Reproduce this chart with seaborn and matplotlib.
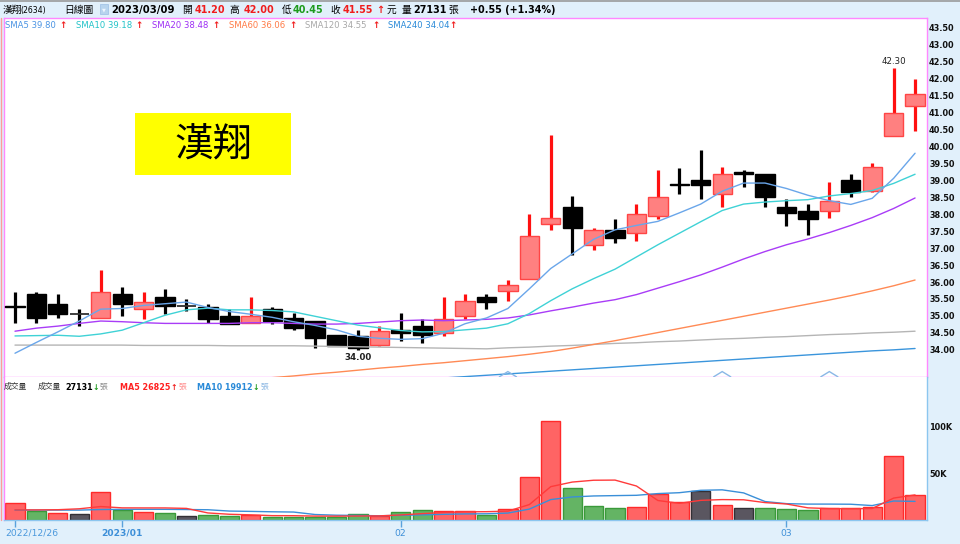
import numpy as np
import pandas as pd
import matplotlib
matplotlib.use("Agg")
import matplotlib.pyplot as plt
import seaborn as sns
from matplotlib.patches import Rectangle
from matplotlib.lines import Line2D

# ---------------- data ----------------
dates = ["2022/12/26", "2022/12/27", "2022/12/28", "2022/12/29", "2022/12/30",
         "2023/01/03", "2023/01/04", "2023/01/05", "2023/01/06", "2023/01/09",
         "2023/01/10", "2023/01/11", "2023/01/12", "2023/01/13", "2023/01/16",
         "2023/01/17", "2023/01/30", "2023/01/31",
         "2023/02/01", "2023/02/02", "2023/02/03", "2023/02/06", "2023/02/07",
         "2023/02/08", "2023/02/09", "2023/02/10", "2023/02/13", "2023/02/14",
         "2023/02/15", "2023/02/16", "2023/02/17", "2023/02/20", "2023/02/21",
         "2023/02/22", "2023/02/23", "2023/02/24",
         "2023/03/01", "2023/03/02", "2023/03/03", "2023/03/06", "2023/03/07",
         "2023/03/08", "2023/03/09"]

opens = [35.30, 35.65, 35.35, 35.05, 34.95, 35.65, 35.20, 35.55, 35.30, 35.25,
         35.00, 34.80, 35.20, 34.95, 34.85, 34.45, 34.40, 34.15, 34.60, 34.70,
         34.50, 35.00, 35.55, 35.75, 36.10, 37.70, 38.20, 37.10, 37.55, 37.45,
         37.95, 38.90, 39.00, 38.60, 39.25, 39.20, 38.20, 38.10, 38.10, 39.00,
         38.70, 40.30, 41.20]
highs = [35.70, 35.70, 35.65, 35.20, 36.35, 35.85, 35.70, 35.80, 35.50, 35.35,
         35.20, 35.55, 35.25, 35.10, 34.85, 34.45, 34.60, 34.70, 35.10, 34.90,
         35.55, 35.65, 35.65, 36.05, 38.00, 40.35, 38.55, 37.60, 37.85, 38.30,
         39.30, 39.35, 39.90, 39.40, 39.30, 39.20, 38.45, 38.30, 38.95, 39.20,
         39.50, 42.30, 42.00]
lows = [34.80, 34.80, 34.95, 34.70, 34.95, 35.00, 34.90, 35.05, 35.15, 34.80,
        34.75, 34.80, 34.75, 34.60, 34.05, 34.10, 34.00, 34.10, 34.25, 34.20,
        34.40, 34.90, 35.20, 35.45, 36.10, 37.55, 36.80, 36.95, 37.15, 37.20,
        37.85, 38.60, 38.45, 38.20, 38.80, 38.20, 37.65, 37.40, 37.90, 38.50,
        38.65, 40.30, 40.45]
closes = [35.25, 34.95, 35.05, 35.05, 35.70, 35.35, 35.40, 35.30, 35.30, 34.90,
          34.75, 35.00, 34.85, 34.65, 34.35, 34.10, 34.05, 34.55, 34.50, 34.45,
          34.90, 35.45, 35.40, 35.90, 37.35, 37.90, 37.60, 37.55, 37.30, 38.00,
          38.50, 38.85, 38.85, 39.20, 39.20, 38.50, 38.05, 37.85, 38.40, 38.65,
          39.40, 41.00, 41.55]

volumes = [18200, 9300, 7900, 6500, 30100, 11100, 9000, 7900, 4000, 5800,
           4000, 5800, 3700, 3700, 3700, 3700, 6500, 4400, 8700, 10800,
           9700, 10000, 5300, 11600, 45800, 105700, 34500, 15100, 12400, 14100,
           28200, 19400, 31000, 16500, 13000, 13200, 12000, 10300, 12500, 12500,
           14000, 68000, 27131]
vol_kind = ["up", "down", "up", "flat", "up", "down", "up", "down", "flat", "down",
            "down", "up", "down", "down", "down", "down", "down", "up", "down", "down",
            "up", "up", "down", "up", "up", "up", "down", "down", "down", "up",
            "up", "up", "flat", "up", "flat", "down", "down", "down", "up", "up",
            "up", "up", "up"]

NA = np.nan
sma5 = [33.90, 34.22, 34.53, 34.85, 35.20, 35.22, 35.31, 35.36, 35.41, 35.25,
        35.13, 35.05, 34.96, 34.83, 34.72, 34.59, 34.40, 34.34, 34.31, 34.33,
        34.49, 34.77, 34.94, 35.22, 35.80, 36.40, 36.83, 37.26, 37.54, 37.67,
        37.79, 38.04, 38.30, 38.68, 38.92, 38.92, 38.76, 38.56, 38.40, 38.29,
        38.47, 39.06, 39.80]
sma10 = [34.41, 34.42, 34.43, 34.40, 34.47, 34.58, 34.80, 35.02, 35.18, 35.23,
         35.18, 35.18, 35.16, 35.12, 34.99, 34.86, 34.73, 34.65, 34.57, 34.53,
         34.54, 34.59, 34.64, 34.77, 35.07, 35.45, 35.80, 36.10, 36.38, 36.74,
         37.10, 37.44, 37.78, 38.11, 38.30, 38.36, 38.40, 38.43, 38.54, 38.61,
         38.70, 38.91, 39.18]
sma20 = [34.55, 34.64, 34.70, 34.78, 34.85, 34.83, 34.80, 34.78, 34.78, 34.78,
         34.78, 34.80, 34.80, 34.78, 34.76, 34.76, 34.78, 34.82, 34.86, 34.88,
         34.86, 34.88, 34.90, 34.94, 35.03, 35.15, 35.26, 35.38, 35.48, 35.63,
         35.82, 36.01, 36.21, 36.44, 36.68, 36.90, 37.10, 37.27, 37.46, 37.67,
         37.90, 38.17, 38.48]
sma60 = [NA, NA, NA, NA, NA, NA, NA, NA, NA, NA,
         NA, 33.12, 33.18, 33.23, 33.29, 33.34, 33.40, 33.46, 33.51, 33.57,
         33.62, 33.68, 33.74, 33.80, 33.87, 33.95, 34.05, 34.16, 34.27, 34.39,
         34.51, 34.63, 34.75, 34.87, 34.99, 35.11, 35.23, 35.35, 35.47, 35.60,
         35.74, 35.89, 36.06]
sma120 = [34.14, 34.14, 34.14, 34.14, 34.14, 34.14, 34.13, 34.13, 34.13, 34.13,
          34.12, 34.12, 34.12, 34.12, 34.11, 34.10, 34.09, 34.08, 34.07, 34.06,
          34.05, 34.04, 34.03, 34.06, 34.08, 34.11, 34.13, 34.16, 34.19, 34.21,
          34.24, 34.26, 34.29, 34.32, 34.34, 34.37, 34.39, 34.42, 34.45, 34.47,
          34.50, 34.52, 34.55]
sma240 = [NA, NA, NA, NA, NA, NA, NA, NA, NA, NA,
          NA, NA, NA, NA, NA, NA, NA, NA, NA, NA,
          33.17, 33.21, 33.25, 33.29, 33.33, 33.37, 33.41, 33.45, 33.49, 33.53,
          33.57, 33.61, 33.65, 33.69, 33.73, 33.77, 33.81, 33.85, 33.89, 33.93,
          33.97, 34.00, 34.04]

vol_ma5 = [10800, 10800, 11000, 12000, 14400, 12980, 12920, 12920, 12420, 7560,
           6140, 5500, 4660, 4600, 4180, 4120, 4260, 4400, 5400, 6820,
           8020, 8720, 8900, 9480, 16480, 35680, 40580, 42540, 42700, 36360,
           20860, 17840, 21020, 21840, 21620, 18620, 17140, 13000, 12200, 12100,
           12260, 23460, 26825]
vol_ma10 = [10600, 10600, 10600, 10600, 11200, 11400, 11400, 11400, 11200, 10980,
            9560, 9210, 8790, 8510, 5870, 5130, 4880, 4530, 5000, 5500,
            6070, 6490, 6650, 7440, 11650, 21850, 24650, 25720, 26090, 26420,
            28270, 29210, 31780, 32270, 28990, 19740, 17490, 17010, 17020, 16860,
            15440, 20300, 19912]

sma_names = ["SMA5", "SMA10", "SMA20", "SMA60", "SMA120", "SMA240"]
sma_last = ["39.80", "39.18", "38.48", "36.06", "34.55", "34.04"]
price_ticks = [34.00, 34.50, 35.00, 35.50, 36.00, 36.50, 37.00, 37.50, 38.00, 38.50,
               39.00, 39.50, 40.00, 40.50, 41.00, 41.50, 42.00, 42.50, 43.00, 43.50]
vol_ticks = [50000, 100000]
vol_tick_labels = ["50K", "100K"]
date_tick_dates = ["2022/12/26", "2023/01/03", "2023/02/01", "2023/03/01"]
date_tick_labels = ["2022/12/26", "2023/01", "02", "03"]
event_dates = ["2023/02/08", "2023/02/22", "2023/03/03"]

# ---------------- style ----------------
sns.set_style("white")
plt.rcParams["font.family"] = ["DejaVu Sans", "Noto Sans CJK TC"]
plt.rcParams["axes.unicode_minus"] = False
CJK = ["Noto Sans CJK TC", "DejaVu Sans"]
LAT = ["DejaVu Sans", "Noto Sans CJK TC"]

W, H = 960, 544
fig = plt.figure(figsize=(W / 100, H / 100), dpi=100)
BG = "#e1f0fb"
fig.patch.set_facecolor(BG)

def fx(px):
    return px / W

def fy(py):
    return 1 - py / H

def txt(x, y, s, color="black", size=6.5, weight="normal", family=None, ha="left", va="center", z=10):
    fig.text(fx(x), fy(y), s, color=color, fontsize=size, fontweight=weight,
             family=family or LAT, ha=ha, va=va, zorder=z)

XL, XR = 4, 927
YT, YM, YB = 18, 377, 520
ax = fig.add_axes([fx(XL), fy(YM), (XR - XL) / W, (YM - YT) / H])
axv = fig.add_axes([fx(XL), fy(YB), (XR - XL) / W, (YB - YM) / H])
for a in (ax, axv):
    a.set_facecolor("white")

idx = np.arange(len(dates))
o = np.array(opens); c = np.array(closes); h = np.array(highs); l = np.array(lows)

PINK = "#ff88ff"
LBLUE = "#8cc6ef"

# ---------------- price panel ----------------
XMIN, XMAX = -0.513, 42.557
YMIN, YMAX = 33.199, 43.789

sma_colors = ["#4b94e3", "#22c3c8", "#9d2df5", "#ff7a45", "#a8a8a8", "#2a8ad8"]
line_colors = ["#6aa6ea", "#3fd2d6", "#a93cf7", "#ff8a55", "#b5b5b5", "#3a95dc"]
for vals, col in zip([sma240, sma120, sma60, sma20, sma10, sma5], line_colors[::-1]):
    sns.lineplot(x=idx, y=np.array(vals, dtype=float), ax=ax, color=col,
                 linewidth=1.0, legend=False, errorbar=None, zorder=4)

up = c > o
dn = c < o
fl = c == o
ax.vlines(idx[up], l[up], h[up], color="#ff1010", lw=2.3, zorder=2)
ax.vlines(idx[~up], l[~up], h[~up], color="black", lw=2.3, zorder=2)
ax.bar(idx[up], (c - o)[up], bottom=o[up], width=0.9, color="#ff8080",
       edgecolor="#ff4545", linewidth=1.0, zorder=3)
ax.bar(idx[dn], (o - c)[dn], bottom=c[dn], width=0.9, color="black",
       edgecolor="black", linewidth=1.0, zorder=3)
ax.hlines(c[fl], idx[fl] - 0.45, idx[fl] + 0.45, color="#303030", lw=1.3, zorder=3)

# high / low annotations
hi_i = int(np.argmax(h)); lo_i = int(np.argmin(l))
ax.annotate(f"{h[hi_i]:.2f}", xy=(hi_i, h[hi_i]), xytext=(0, 1.5), textcoords="offset points",
            ha="center", va="bottom", fontsize=6.2, color="#202020", zorder=6)
ax.annotate(f"{l[lo_i]:.2f}", xy=(lo_i, l[lo_i]), xytext=(0, -2), textcoords="offset points",
            ha="center", va="top", fontsize=6.2, color="#202020", fontweight="bold", zorder=6)

# small event chevrons at the bottom
for d in event_dates:
    i = dates.index(d)
    ax.plot([i - 0.4, i, i + 0.4], [YMIN + 0.005, YMIN + 0.16, YMIN + 0.005],
            color="#8ab8e6", lw=1.0, zorder=5, solid_joinstyle="miter")

ax.set_xlim(XMIN, XMAX)
ax.set_ylim(YMIN, YMAX)
ax.set_xticks([])
ax.yaxis.tick_right()
ax.set_yticks(price_ticks)
ax.set_yticklabels([f"{v:.2f}" for v in price_ticks], fontsize=5.9, fontweight="bold", color="#111111")
ax.tick_params(axis="y", length=0, pad=1.5)
ax.set_xlabel(""); ax.set_ylabel("")
for s in ax.spines.values():
    s.set_color(PINK); s.set_linewidth(1.0); s.set_visible(True)

# ---------------- volume panel ----------------
VOL_FILL = {"up": "#ff6464", "down": "#64b464", "flat": "#5a5660"}
VOL_EDGE = {"up": "#ff2a2a", "down": "#3a9a3a", "flat": "#333036"}
vdf = pd.DataFrame({"i": idx, "vol": volumes, "kind": vol_kind})
sns.barplot(data=vdf, x="i", y="vol", hue="kind", palette=VOL_FILL, native_scale=True,
            dodge=False, width=0.9, errorbar=None, saturation=1, legend=False, ax=axv,
            zorder=2)
fill2edge = {tuple(np.round(matplotlib.colors.to_rgb(VOL_FILL[k]), 3)): VOL_EDGE[k] for k in VOL_FILL}
for p in axv.patches:
    key = tuple(np.round(p.get_facecolor()[:3], 3))
    p.set_edgecolor(fill2edge.get(key, "#333333"))
    p.set_linewidth(1.0)

sns.lineplot(x=idx, y=np.array(vol_ma10, dtype=float), ax=axv, color="#3a8fd8",
             linewidth=1.0, legend=False, errorbar=None, zorder=4)
sns.lineplot(x=idx, y=np.array(vol_ma5, dtype=float), ax=axv, color="#ff3a3a",
             linewidth=1.0, legend=False, errorbar=None, zorder=4)

axv.set_xlim(XMIN, XMAX)
axv.set_ylim(0, 153000)
axv.yaxis.tick_right()
axv.set_yticks(vol_ticks)
axv.set_yticklabels(vol_tick_labels, fontsize=5.9, fontweight="bold", color="#111111")
axv.tick_params(axis="y", length=0, pad=1.5)
tick_idx = [dates.index(d) for d in date_tick_dates]
axv.set_xticks(tick_idx)
axv.set_xticklabels([])
axv.tick_params(axis="x", direction="out", length=5, width=1, color="#5aa2dc", bottom=True)
axv.set_xlabel(""); axv.set_ylabel("")
axv.spines["top"].set_visible(False)
axv.spines["left"].set_color(PINK)
axv.spines["right"].set_color(LBLUE)
axv.spines["bottom"].set_color(LBLUE)
for s in ("left", "right", "bottom"):
    axv.spines[s].set_linewidth(1.0); axv.spines[s].set_visible(True)

# date labels
for k, (i, lab) in enumerate(zip(tick_idx, date_tick_labels)):
    xpix = 15 + 21.43 * i
    if k == 0:
        txt(5, 533, lab, color="#4a98dc", size=6.6, ha="left")
    else:
        txt(xpix, 533, lab, color="#3d8fd8", size=6.6, ha="center",
            weight="bold" if k == 1 else "normal")

# ---------------- frame decorations ----------------
fig.add_artist(Line2D([0, 1], [fy(0.5), fy(0.5)], color="#9a9a9a", lw=1.2))
fig.add_artist(Line2D([fx(1), fx(1)], [fy(YT), fy(YB)], color="#ff9a9a", lw=1.0))

# ---------------- header ----------------
HY = 10
RED = "#f01c1c"; GREEN = "#1d9a1d"
txt(3, HY, "漢翔", size=7, family=CJK)
txt(20.5, HY, "(2634)", size=5.6)
txt(64, HY, "日線圖", size=7, family=CJK)
fig.add_artist(Rectangle((fx(100), fy(14)), 8 / W, 10 / H, facecolor="#b7d4ee", edgecolor="#a3c4e6", lw=0.6))
txt(104, 9.5, "▼", color="#eef6ff", size=3.6, ha="center")
txt(111, HY, "2023/03/09", size=7.3, weight="bold")
txt(182, HY, "開", size=7, family=CJK)
txt(195, HY, "41.20", color=RED, size=6.9, weight="bold")
txt(229, HY, "高", size=7, family=CJK)
txt(244, HY, "42.00", color=RED, size=6.9, weight="bold")
txt(282, HY, "低", size=7, family=CJK)
txt(293, HY, "40.45", color=GREEN, size=6.9, weight="bold")
txt(330, HY, "收", size=7, family=CJK)
txt(343, HY, "41.55", color=RED, size=6.9, weight="bold")
txt(376, HY, "↑", color=RED, size=7, weight="bold")
txt(387, HY, "元", size=7, family=CJK)
txt(402, HY, "量", size=7, family=CJK)
txt(413, HY, "27131", size=6.9, weight="bold")
txt(448, HY, "張", size=7, family=CJK)
txt(470, HY, "+0.55 (+1.34%)", size=6.9, weight="bold")

# SMA legend
LY = 25
leg_x = [5, 76, 152, 229, 305, 388]
arr_x = [59, 135, 212, 289, 372, 449]
for name, val, col, x0, xa in zip(sma_names, sma_last, sma_colors, leg_x, arr_x):
    txt(x0, LY, f"{name} {val}", color=col, size=6.1)
    txt(xa, LY, "↑", color=RED, size=6.3, weight="bold")

# volume legend
VY = 387
txt(4, VY, "成交量", size=5.6, family=CJK, color="#333333")
txt(38, VY, "成交量", size=5.6, family=CJK, color="#333333")
txt(65, VY, f"{volumes[-1]}", size=5.8, weight="bold")
txt(92, VY, "↓", color=GREEN, size=5.6, weight="bold")
txt(100, VY, "張", size=5.6, family=CJK, color="#8a8a8a")
txt(120, VY, f"MA5 {vol_ma5[-1]}", color="#ff2020", size=5.8, weight="bold")
txt(170.5, VY, "↑", color=RED, size=5.6, weight="bold")
txt(179, VY, "張", size=5.6, family=CJK, color="#ff8a8a")
txt(197, VY, f"MA10 {vol_ma10[-1]}", color="#2a8ad8", size=5.8, weight="bold")
txt(252, VY, "↓", color=GREEN, size=5.6, weight="bold")
txt(261, VY, "張", size=5.6, family=CJK, color="#8ab6e2")

# yellow title box
fig.add_artist(Rectangle((fx(135), fy(175)), 156 / W, 62 / H, facecolor="#ffff00",
                         edgecolor="none", zorder=8))
txt(213, 145, "漢翔", size=28, family=CJK, ha="center", z=9)

fig.savefig("out.png", dpi=100, facecolor=BG)
